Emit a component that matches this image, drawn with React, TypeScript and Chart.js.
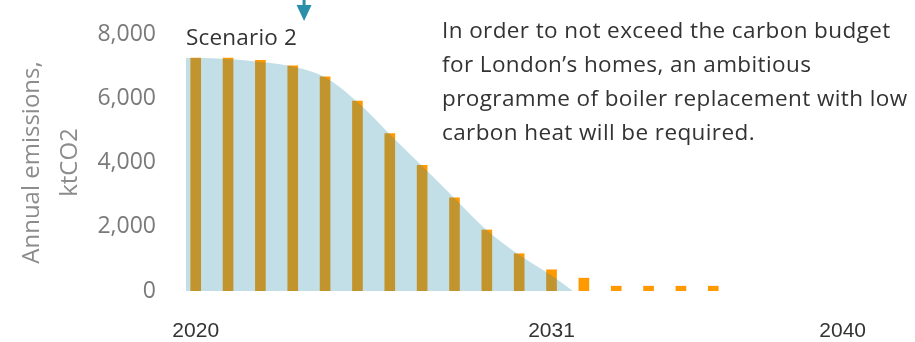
import React, { useEffect, useRef } from 'react';
import { Chart, registerables } from 'chart.js';

Chart.register(...registerables);

// ---- Data ----
const barYears = [2020, 2021, 2022, 2023, 2024, 2025, 2026, 2027, 2028, 2029, 2030, 2031, 2032, 2033, 2034, 2035, 2036];
const emissions = [7250, 7250, 7180, 7010, 6670, 5910, 4900, 3910, 2900, 1900, 1160, 660, 400, 150, 150, 150, 150];

const budgetYears = [2019.7, 2020, 2021, 2022, 2023, 2024, 2025, 2026, 2027, 2028, 2029, 2030, 2031, 2031.66];
const budgetValues = [7250, 7250, 7225, 7130, 6990, 6650, 5880, 4880, 3890, 2890, 1890, 1120, 480, 0];

const xTickYears = [2020, 2031, 2040];
const yTickValues = [0, 2000, 4000, 6000, 8000];

const yTitleLines = ['Annual emissions,', 'ktCO2'];
const scenarioLabel = 'Scenario 2';
const noteLines = [
  'In order to not exceed the carbon budget',
  'for London\u2019s homes, an ambitious',
  'programme of boiler replacement with low',
  'carbon heat will be required.',
];
const arrowYear = 2023.35;

const FONT = '"Open Sans", Lato, sans-serif';
const XFONT = '"Liberation Sans", Arial, sans-serif';

const arrowPlugin = {
  id: 'arrowMarker',
  afterDraw(chart: any) {
    const ctx = chart.ctx;
    const x = chart.scales.x.getPixelForValue(arrowYear);
    ctx.save();
    ctx.fillStyle = '#2a8fa8';
    ctx.fillRect(x - 1.5, 0, 3, 8);
    ctx.beginPath();
    ctx.moveTo(x - 7.5, 5);
    ctx.lineTo(x + 7.5, 5);
    ctx.lineTo(x, 21);
    ctx.closePath();
    ctx.fill();
    ctx.restore();
  },
};

export default function App() {
  const canvasRef = useRef<HTMLCanvasElement | null>(null);

  useEffect(() => {
    if (!canvasRef.current) return;
    const chart = new Chart(canvasRef.current, {
      type: 'bar',
      data: {
        datasets: [
          {
            type: 'line',
            label: 'Carbon budget',
            data: budgetYears.map((x, i) => ({ x, y: budgetValues[i] })),
            borderWidth: 0,
            borderColor: 'rgba(0,0,0,0)',
            backgroundColor: 'rgba(30,135,168,0.27)',
            fill: 'origin',
            pointRadius: 0,
            cubicInterpolationMode: 'monotone',
          } as any,
          {
            type: 'bar',
            label: 'Annual emissions',
            data: barYears.map((x, i) => ({ x, y: emissions[i] })),
            backgroundColor: '#ff9900',
            barThickness: 10,
            borderWidth: 0,
          } as any,
        ],
      },
      options: {
        responsive: false,
        animation: false,
        layout: { padding: { top: 34, right: 40, bottom: 0, left: 0 } },
        plugins: {
          legend: { display: false },
          tooltip: { enabled: false },
        },
        scales: {
          x: {
            type: 'linear',
            min: 2019.7,
            max: 2041,
            offset: false,
            grid: { display: false, drawTicks: false, tickLength: 0 },
            border: { display: false },
            afterBuildTicks: (axis: any) => {
              axis.ticks = xTickYears.map((v) => ({ value: v }));
            },
            afterFit: (axis: any) => {
              axis.height = 51;
              axis.paddingLeft = 0;
              axis.paddingRight = 0;
            },
            ticks: {
              autoSkip: false,
              maxRotation: 0,
              padding: 28,
              color: '#333333',
              font: { family: XFONT, size: 21 },
              callback: (v: any) => String(v),
            },
          },
          y: {
            min: 0,
            max: 8000,
            grid: { display: false, drawTicks: false, tickLength: 0 },
            border: { display: false },
            afterBuildTicks: (axis: any) => {
              axis.ticks = yTickValues.map((v) => ({ value: v }));
            },
            afterFit: (axis: any) => {
              axis.width = 186;
              axis.paddingTop = 0;
              axis.paddingBottom = 0;
            },
            ticks: {
              padding: 30,
              color: '#7a7a7a',
              font: { family: FONT, size: 23 },
              callback: (v: any) => Number(v).toLocaleString('en-US'),
            },
            title: {
              display: true,
              text: yTitleLines,
              color: '#8c8c8c',
              font: { family: FONT, size: 24, lineHeight: 1.55 },
              padding: { top: 14, bottom: 0 },
            },
          },
        },
      } as any,
      plugins: [arrowPlugin],
    });
    return () => chart.destroy();
  }, []);

  return (
    <div style={{ position: 'fixed', left: 0, top: 0, width: 915, height: 342, background: '#fff' }}>
      <canvas ref={canvasRef} width={915} height={342} style={{ display: 'block' }} />
      <div
        style={{
          position: 'absolute',
          left: 186,
          top: 22,
          fontFamily: FONT,
          fontSize: 22.5,
          letterSpacing: '0.2px',
          lineHeight: '30px',
          color: '#333333',
          whiteSpace: 'nowrap',
        }}
      >
        {scenarioLabel}
      </div>
      <div
        style={{
          position: 'absolute',
          left: 442,
          top: 13,
          fontFamily: FONT,
          fontSize: 22.5,
          letterSpacing: '0.4px',
          lineHeight: '34px',
          color: '#333333',
          whiteSpace: 'nowrap',
        }}
      >
        {noteLines.map((l, i) => (
          <div key={i}>{l}</div>
        ))}
      </div>
    </div>
  );
}
